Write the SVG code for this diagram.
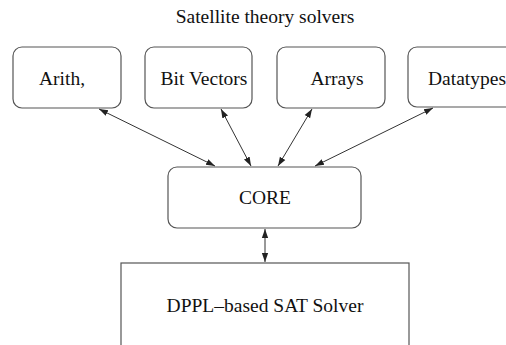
<svg xmlns="http://www.w3.org/2000/svg" width="506" height="345" viewBox="0 0 506 345">
<defs>
<marker id="ah" viewBox="0 0 10 10" refX="10" refY="5" markerWidth="9" markerHeight="9" markerUnits="userSpaceOnUse" orient="auto-start-reverse">
<path d="M0,1.5 L10,5 L0,8.5 z" fill="#222"/>
</marker>
</defs>
<style>
.box{fill:#fff;stroke:#555;stroke-width:1.2}
.t{font-family:"Liberation Serif","Times New Roman",serif;font-size:19.5px;fill:#111;text-anchor:middle}
.c{stroke:#333;stroke-width:1;fill:none;marker-start:url(#ah);marker-end:url(#ah)}
</style>
<rect width="506" height="345" fill="#fff"/>
<text class="t" x="265" y="23">Satellite theory solvers</text>
<g id="arith"><rect class="box" x="13" y="47" width="108" height="61" rx="9"/><text class="t" x="62" y="85">Arith,</text></g>
<g id="bitvectors"><rect class="box" x="145" y="47" width="107" height="61" rx="9"/><text class="t" x="204" y="85">Bit Vectors</text></g>
<g id="arrays"><rect class="box" x="277" y="47" width="108" height="61" rx="9"/><text class="t" x="337" y="85">Arrays</text></g>
<g id="datatypes"><rect class="box" x="408" y="47" width="110" height="60" rx="9"/><text class="t" x="467" y="85">Datatypes</text></g>
<g id="core"><rect class="box" x="168" y="167" width="193" height="61" rx="9"/><text class="t" x="265" y="204">CORE</text></g>
<g id="sat"><rect class="box" x="121" y="263" width="288" height="100"/><text class="t" x="265" y="312">DPPL–based SAT Solver</text></g>
<g id="connectors">
<line class="c" x1="99" y1="109" x2="215" y2="166"/>
<line class="c" x1="221" y1="109" x2="251" y2="166"/>
<line class="c" x1="312" y1="109" x2="278" y2="166"/>
<line class="c" x1="433" y1="108" x2="315" y2="166"/>
<line class="c" x1="265" y1="229" x2="265" y2="262"/>
</g>
</svg>
